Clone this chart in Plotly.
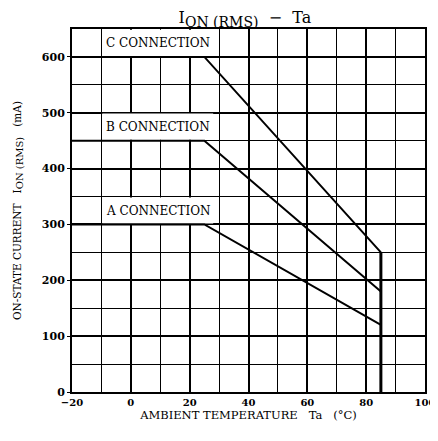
import plotly.graph_objects as go

# Data
temps = [-20, 25, 85]
a_conn = [300, 300, 120]
b_conn = [450, 450, 180]
c_conn = [600, 600, 250]
limit_x = [85, 85]
limit_y = [0, 250]
labels = ["A CONNECTION", "B CONNECTION", "C CONNECTION"]
label_y = [325, 475, 625]
x_ticks = [-20, 0, 20, 40, 60, 80, 100]
y_ticks = [0, 100, 200, 300, 400, 500, 600]

FONT = "DejaVu Serif"
fig = go.Figure()
for ys in (a_conn, b_conn, c_conn):
    fig.add_trace(go.Scatter(x=temps, y=ys, mode="lines",
                             line=dict(color="black", width=2), showlegend=False))
fig.add_trace(go.Scatter(x=limit_x, y=limit_y, mode="lines",
                         line=dict(color="black", width=3), showlegend=False))

for lab, ly in zip(labels, label_y):
    fig.add_shape(type="rect", x0=-9.7, x1=28, y0=ly - 23.5, y1=ly + 23.5,
                  fillcolor="white", line=dict(width=0), layer="between")
    fig.add_annotation(x=-10, y=ly, text=lab, showarrow=False, xanchor="left",
                       xshift=3, font=dict(family=FONT, size=12, color="black"))

# page body has an 8px margin, so the figure is sized to avoid scrollbars
fig.update_layout(
    width=430, height=425,
    margin=dict(l=64, r=13, t=21, b=41, autoexpand=False),
    paper_bgcolor="white", plot_bgcolor="white",
    font=dict(family=FONT, color="black", size=12),
    title=dict(text="I<sub><span style='font-size:14px'>ON (RMS)</span></sub>  −  Ta",
               x=0.551, xanchor="center", automargin=False,
               y=0.99, yanchor="top", font=dict(family=FONT, size=16, color="black")),
)
fig.update_xaxes(range=[-20, 100], tickvals=x_ticks, showgrid=True, gridcolor="black",
                 gridwidth=1.6, zeroline=False, showline=True, linecolor="black",
                 linewidth=2, mirror=True, ticks="", automargin=False,
                 ticklabeloverflow="allow", ticklabelstandoff=0,
                 tickfont=dict(family=FONT, size=10, color="black", weight="bold"),
                 minor=dict(dtick=10, tick0=0, showgrid=True, gridcolor="black", gridwidth=1),
                 title=dict(text="AMBIENT TEMPERATURE   Ta   (°C)", standoff=3,
                            font=dict(family=FONT, size=11.5, color="black")))
fig.update_yaxes(range=[0, 650], tickvals=y_ticks, showgrid=True, gridcolor="black",
                 gridwidth=1.6, zeroline=False, showline=True, linecolor="black",
                 linewidth=2, mirror=True, ticks="outside", ticklen=3, tickcolor="black",
                 automargin=False,
                 tickfont=dict(family=FONT, size=11, color="black", weight="bold"),
                 minor=dict(dtick=50, tick0=0, showgrid=True, gridcolor="black", gridwidth=1),
                 title=dict(text="ON-STATE CURRENT   I<sub><span style='font-size:10px'>ON (RMS)</span></sub>   (mA)",
                            standoff=18, font=dict(family=FONT, size=10.5, color="black")))

fig.write_html("out.html")
